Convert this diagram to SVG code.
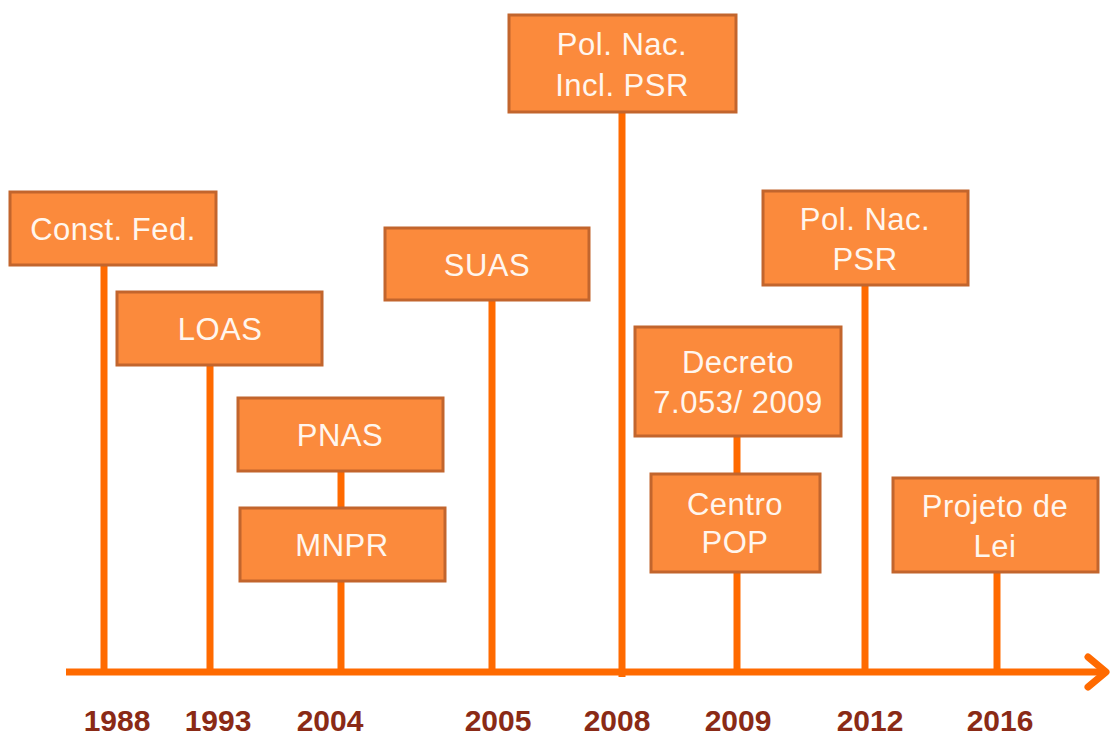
<svg xmlns="http://www.w3.org/2000/svg" width="1110" height="738" viewBox="0 0 1110 738">
  <style>
    .box { fill: #FB8A3C; stroke: #C2652D; stroke-width: 3; }
    .stem { stroke: #FF6A00; stroke-width: 7; fill: none; }
    .lbl { font-family: "Liberation Sans", Arial, sans-serif; font-size: 31px; letter-spacing: 0.5px; fill: #FFF6EE; text-anchor: middle; }
    .yr { font-family: "Liberation Sans", Arial, sans-serif; font-size: 30px; font-weight: bold; fill: #8A2A16; text-anchor: middle; }
  </style>
  <rect width="1110" height="738" fill="#FFFFFF"/>

  <!-- timeline axis and stems -->
  <g id="connectors">
    <line class="stem" x1="104" y1="266" x2="104" y2="672"/>
    <line class="stem" x1="210" y1="366" x2="210" y2="672"/>
    <line class="stem" x1="341" y1="471" x2="341" y2="508"/>
    <line class="stem" x1="341" y1="581" x2="341" y2="672"/>
    <line class="stem" x1="492" y1="300" x2="492" y2="672"/>
    <line class="stem" x1="622" y1="113" x2="622" y2="677"/>
    <line class="stem" x1="737" y1="436" x2="737" y2="474"/>
    <line class="stem" x1="737" y1="572" x2="737" y2="672"/>
    <line class="stem" x1="865" y1="285" x2="865" y2="672"/>
    <line class="stem" x1="997" y1="572" x2="997" y2="672"/>
    <line class="stem" x1="66" y1="672" x2="1104" y2="672"/>
    <polyline class="stem" points="1088,657 1106,672 1088,687" stroke-linecap="round" stroke-linejoin="round"/>
  </g>

  <g id="n1988">
    <rect class="box" x="10" y="192" width="206" height="73"/>
    <text class="lbl" x="113" y="240">Const. Fed.</text>
  </g>
  <g id="n1993">
    <rect class="box" x="117" y="292" width="205" height="73"/>
    <text class="lbl" x="220" y="340">LOAS</text>
  </g>
  <g id="n2004a">
    <rect class="box" x="238" y="398" width="205" height="73"/>
    <text class="lbl" x="340" y="446">PNAS</text>
  </g>
  <g id="n2004b">
    <rect class="box" x="240" y="508" width="205" height="73"/>
    <text class="lbl" x="342" y="556">MNPR</text>
  </g>
  <g id="n2005">
    <rect class="box" x="385" y="228" width="204" height="72"/>
    <text class="lbl" x="487" y="276">SUAS</text>
  </g>
  <g id="n2008">
    <rect class="box" x="509" y="15" width="227" height="97"/>
    <text class="lbl" x="622" y="55">Pol. Nac.</text>
    <text class="lbl" x="622" y="96">Incl. PSR</text>
  </g>
  <g id="n2009a">
    <rect class="box" x="635" y="327" width="206" height="109"/>
    <text class="lbl" x="738" y="373">Decreto</text>
    <text class="lbl" x="738" y="413">7.053/ 2009</text>
  </g>
  <g id="n2009b">
    <rect class="box" x="651" y="474" width="169" height="98"/>
    <text class="lbl" x="735" y="515">Centro</text>
    <text class="lbl" x="735" y="553">POP</text>
  </g>
  <g id="n2012">
    <rect class="box" x="763" y="191" width="205" height="94"/>
    <text class="lbl" x="865" y="230">Pol. Nac.</text>
    <text class="lbl" x="865" y="270">PSR</text>
  </g>
  <g id="n2016">
    <rect class="box" x="893" y="478" width="205" height="94"/>
    <text class="lbl" x="995" y="517">Projeto de</text>
    <text class="lbl" x="995" y="557">Lei</text>
  </g>

  <g id="years">
    <text class="yr" x="117" y="731">1988</text>
    <text class="yr" x="218" y="731">1993</text>
    <text class="yr" x="330" y="731">2004</text>
    <text class="yr" x="498" y="731">2005</text>
    <text class="yr" x="617" y="731">2008</text>
    <text class="yr" x="738" y="731">2009</text>
    <text class="yr" x="870" y="731">2012</text>
    <text class="yr" x="1000" y="731">2016</text>
  </g>
</svg>
